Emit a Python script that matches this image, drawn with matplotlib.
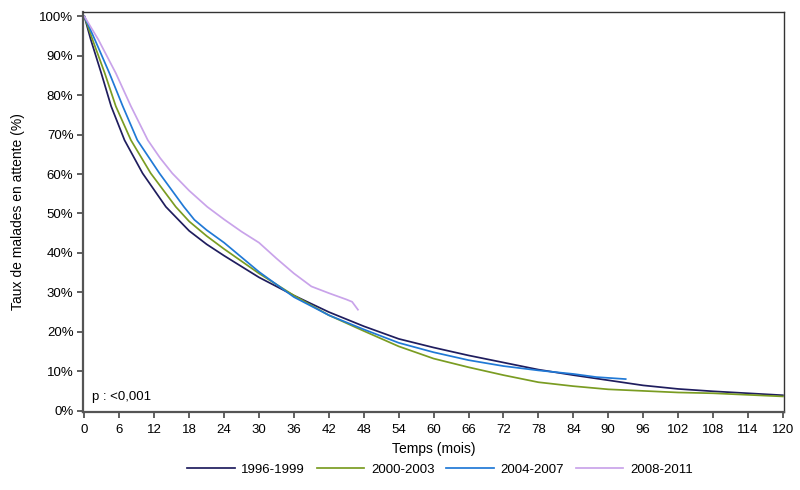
import matplotlib
matplotlib.use("Agg")
import matplotlib.pyplot as plt
from matplotlib.ticker import FixedLocator, FuncFormatter

plt.rcParams["font.family"] = ["Liberation Sans", "DejaVu Sans"]

# survival curves (months, % still waiting)
months_9699 = [0, 1.1, 2.9, 4.6, 6.9, 10, 14, 18, 21, 24, 30, 36, 42, 48, 54, 60, 66, 72, 78, 84, 90, 96, 102, 108, 114, 120]
pct_9699 = [100, 94.1, 85.6, 77.2, 68.6, 60.2, 51.7, 45.6, 42.2, 39.3, 33.8, 29.2, 25.0, 21.4, 18.2, 16.0, 14.0, 12.2, 10.4, 9.0, 7.7, 6.4, 5.5, 4.9, 4.4, 3.9]

months_0003 = [0, 1.4, 3.5, 5.4, 8, 11.4, 15.7, 18, 21, 24, 30, 36, 42, 48, 54, 60, 66, 72, 78, 84, 90, 96, 102, 108, 114, 120]
pct_0003 = [100, 94.1, 85.6, 77.2, 68.6, 60.2, 51.7, 48.0, 44.3, 41.0, 34.8, 29.2, 24.2, 20.2, 16.3, 13.2, 11.0, 9.0, 7.2, 6.2, 5.4, 5.0, 4.6, 4.4, 4.0, 3.6]

months_0407 = [0, 1.8, 4.3, 6.6, 9.1, 12.9, 17.1, 18.9, 21, 24, 30, 36, 42, 48, 54, 60, 66, 72, 78, 84, 88, 90, 93]
pct_0407 = [100, 94.1, 85.6, 77.2, 68.6, 60.2, 51.7, 48.4, 45.8, 42.6, 35.2, 28.8, 24.2, 20.6, 17.2, 14.8, 12.8, 11.3, 10.2, 9.3, 8.5, 8.3, 8.0]

months_0811 = [0, 2.4, 5.4, 8, 10.9, 13, 15.1, 18, 21.1, 24, 27, 30, 33, 36, 39, 42, 45, 46, 46.5, 47]
pct_0811 = [100, 94.1, 85.6, 77.2, 68.6, 64.1, 60.2, 55.8, 51.7, 48.5, 45.4, 42.6, 38.6, 34.8, 31.5, 29.8, 28.2, 27.6, 26.6, 25.6]

labels = ["1996-1999", "2000-2003", "2004-2007", "2008-2011"]
colors = ["#1f1d5e", "#7a9c22", "#2079d6", "#c9a3ea"]
x_ticks = list(range(0, 121, 6))
y_ticks = list(range(0, 101, 10))

fig = plt.figure(figsize=(8, 4.9), dpi=100)
ax = fig.add_axes([0.104, 0.160, 0.876, 0.8155])

series = [(months_9699, pct_9699), (months_0003, pct_0003),
          (months_0407, pct_0407), (months_0811, pct_0811)]
for (m, p), lab, col in zip(series, labels, colors):
    ax.plot(m, p, color=col, lw=1.25, label=lab)

ax.set_xlim(-0.2, 120.2)
ax.set_ylim(-0.25, 101.1)
ax.xaxis.set_major_locator(FixedLocator(x_ticks))
ax.yaxis.set_major_locator(FixedLocator(y_ticks))
ax.yaxis.set_major_formatter(FuncFormatter(lambda v, _: f"{v:.0f}%"))
ax.tick_params(axis="both", direction="out", length=4, width=1.2,
               color="#444444", labelsize=9.5, pad=3)
ax.tick_params(axis="x", pad=5)

for side in ["left", "bottom"]:
    ax.spines[side].set_linewidth(1.6)
    ax.spines[side].set_color("#555555")
for side in ["top", "right"]:
    ax.spines[side].set_linewidth(1.0)
    ax.spines[side].set_color("#333333")

ax.set_xlabel("Temps (mois)", fontsize=10, labelpad=4)
ax.set_ylabel("Taux de malades en attente (%)", fontsize=10, labelpad=10)

ax.text(0.012, 0.022, "p : <0,001", transform=ax.transAxes, fontsize=9.5,
        ha="left", va="bottom")

fig.legend(loc="lower center", bbox_to_anchor=(0.55, 0.005), ncol=4,
           frameon=False, fontsize=9.5, handlelength=3.6, columnspacing=0.9,
           handletextpad=0.5)

fig.savefig("out.png", dpi=100)
